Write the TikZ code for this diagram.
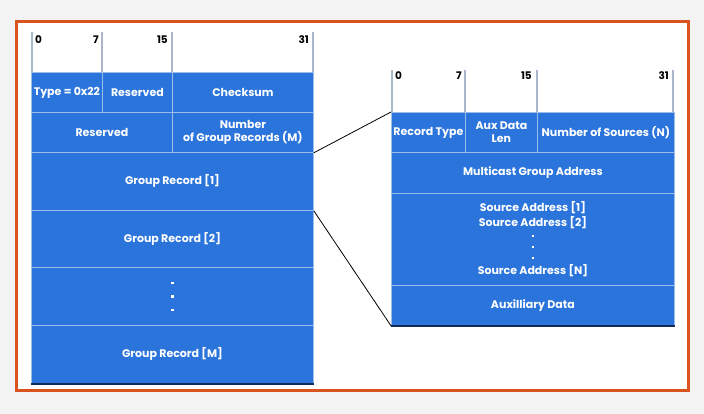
\documentclass[tikz,border=0pt]{standalone}
\usepackage{fontspec}
\setmainfont{Poppins}
\usetikzlibrary{positioning}
\definecolor{cellblue}{HTML}{2A74DC}
\definecolor{celledge}{HTML}{0F2B57}
\definecolor{celllight}{HTML}{9CBDEB}
\definecolor{framered}{HTML}{D9531E}
\definecolor{bitline}{HTML}{A9B6CB}
\definecolor{pagegray}{HTML}{F3F3F3}
\newcommand{\bitdot}{\rule{2.4pt}{2.4pt}}

\begin{document}
\begin{tikzpicture}[x=1pt, y=-1pt,
    cell/.style={rectangle, anchor=north west, inner sep=0pt, fill=cellblue, draw=celllight, line width=0.8pt,
      text=white, font=\fontsize{11}{12}\selectfont\bfseries, align=center,
      append after command={\pgfextra{\let\lastcell\tikzlastnode}
        (\lastcell.south west) edge[celledge, line width=1.4pt] (\lastcell.south east)}},
    bitmark/.style={draw=bitline, line width=1.6pt},
    bitnum/.style={font=\fontsize{10.5}{11}\selectfont\bfseries, inner sep=0pt},
    link/.style={draw=black, line width=0.8pt}]
    \useasboundingbox (0,0) rectangle (704,414);
    \fill[pagegray] (0,0) rectangle (704,414);
    \fill[white] (16,22) rectangle (688,390);
    \draw[framered, line width=3pt] (16,22) rectangle (688,390);

    % IGMPv3 report header
    \foreach \x in {32,102,172,313} \draw[bitmark] (\x,32) -- (\x,72);
    \node[bitnum, anchor=west] (lbitA) at (35,40) {0};
    \node[bitnum, anchor=east] (lbitB) at (99,40) {7};
    \node[bitnum, anchor=east] (lbitC) at (168,40) {15};
    \node[bitnum, anchor=east] (lbitD) at (309,40) {31};

    \node[cell, minimum width=71pt, minimum height=40pt] (type) at (31,72) {Type = 0x22};
    \node[cell, minimum width=70pt, minimum height=40pt] (resvA) at (102,72) {Reserved};
    \node[cell, minimum width=141pt, minimum height=40pt] (csum) at (172,72) {Checksum};
    \node[cell, minimum width=141pt, minimum height=40pt] (resvB) at (31,112) {Reserved};
    \node[cell, minimum width=141pt, minimum height=40pt, font=\fontsize{11}{13}\selectfont\bfseries] (nrec) at (172,112) {Number\\of Group Records (M)};
    \node[cell, minimum width=282pt, minimum height=58pt] (grpA) at (31,152) {Group Record [1]};
    \node[cell, minimum width=282pt, minimum height=57pt] (grpB) at (31,210) {Group Record [2]};
    \node[cell, minimum width=282pt, minimum height=58pt, font=\fontsize{11}{13.5}\selectfont] (grpdots) at (31,267) {\bitdot\\\bitdot\\\bitdot};
    \node[cell, minimum width=282pt, minimum height=58pt] (grpM) at (31,325) {Group Record [M]};

    % group record
    \foreach \x in {392,465,537,673} \draw[bitmark] (\x,70) -- (\x,112);
    \node[bitnum, anchor=west] (rbitA) at (395,76) {0};
    \node[bitnum, anchor=east] (rbitB) at (462,76) {7};
    \node[bitnum, anchor=east] (rbitC) at (532,76) {15};
    \node[bitnum, anchor=east] (rbitD) at (669,76) {31};

    \node[cell, minimum width=74pt, minimum height=40pt] (rtype) at (391,112) {Record Type};
    \node[cell, minimum width=72pt, minimum height=40pt, font=\fontsize{11}{13}\selectfont\bfseries] (auxlen) at (465,112) {Aux Data\\Len};
    \node[cell, minimum width=137pt, minimum height=40pt] (nsrc) at (537,112) {Number of Sources (N)};
    \node[cell, minimum width=283pt, minimum height=41pt] (mcast) at (391,152) {Multicast Group Address};
    \node[cell, minimum width=283pt, minimum height=92pt, font=\fontsize{11}{15}\selectfont\bfseries] (srcs) at (391,193)
      {Source Address [1]\\Source Address [2]\\[-4.5pt]\bitdot\\[-4pt]\bitdot\\[-4pt]\bitdot\\[0.5pt]Source Address [N]};
    \node[cell, minimum width=283pt, minimum height=40pt] (auxdata) at (391,285) {Auxilliary Data};

    \draw[link] (nrec.south east) -- (rtype.north west);
    \draw[link] (grpA.south east) -- (auxdata.south west);
\end{tikzpicture}
\end{document}
